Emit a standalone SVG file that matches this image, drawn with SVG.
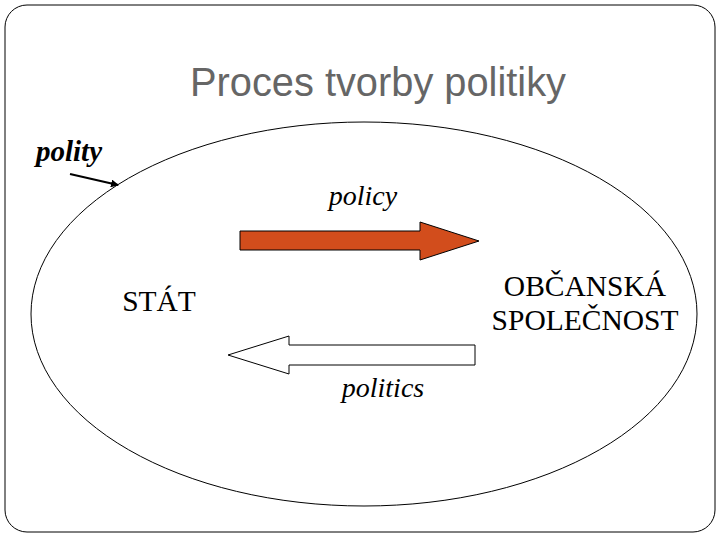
<svg xmlns="http://www.w3.org/2000/svg" width="720" height="540" viewBox="0 0 720 540">
<style>
.ser{font-family:"Liberation Serif","Times New Roman",serif;fill:#000}
.it{font-style:italic}
.ln{fill:none;stroke:#000;stroke-width:1}
</style>
<defs>
<marker id="ah" markerWidth="8" markerHeight="8" refX="7" refY="4" orient="auto" markerUnits="userSpaceOnUse"><path d="M0,0 L8,4 L0,8 Z" fill="#000"/></marker>
</defs>
<rect width="720" height="540" fill="#fff"/>
<rect x="5" y="5" width="710" height="527" rx="22" ry="22" class="ln"/>
<text x="378" y="96" text-anchor="middle" font-family="Liberation Sans, Arial, sans-serif" font-size="40" fill="#666666" textLength="376" lengthAdjust="spacingAndGlyphs">Proces tvorby politiky</text>
<g id="polity-ellipse">
<ellipse cx="364" cy="314" rx="333" ry="192" class="ln"/>
</g>
<g id="polity-label">
<text x="36" y="161" class="ser it" font-weight="bold" font-size="29">polity</text>
</g>
<g id="policy-arrow">
<polygon points="240,231 420,231 420,222 479,241 420,260 420,250 240,250" fill="#D24D1C" stroke="#000" stroke-width="1"/>
<text x="363" y="205" text-anchor="middle" class="ser it" font-size="28">policy</text>
</g>
<g id="politics-arrow">
<polygon points="475,345 289,345 289,336 228,355 289,374 289,365 475,365" fill="#fff" stroke="#000" stroke-width="1"/>
<text x="383" y="397" text-anchor="middle" class="ser it" font-size="28">politics</text>
</g>
<g id="stat">
<text x="159" y="311" text-anchor="middle" class="ser" font-size="29.5">STÁT</text>
</g>
<g id="obcanska">
<text x="585" y="296" text-anchor="middle" class="ser" font-size="29.5">OBČANSKÁ</text>
<text x="585" y="330" text-anchor="middle" class="ser" font-size="29.5">SPOLEČNOST</text>
</g>
<g id="connectors">
<line x1="70" y1="174" x2="118" y2="185" stroke="#000" stroke-width="2" marker-end="url(#ah)"/>
</g>
</svg>
